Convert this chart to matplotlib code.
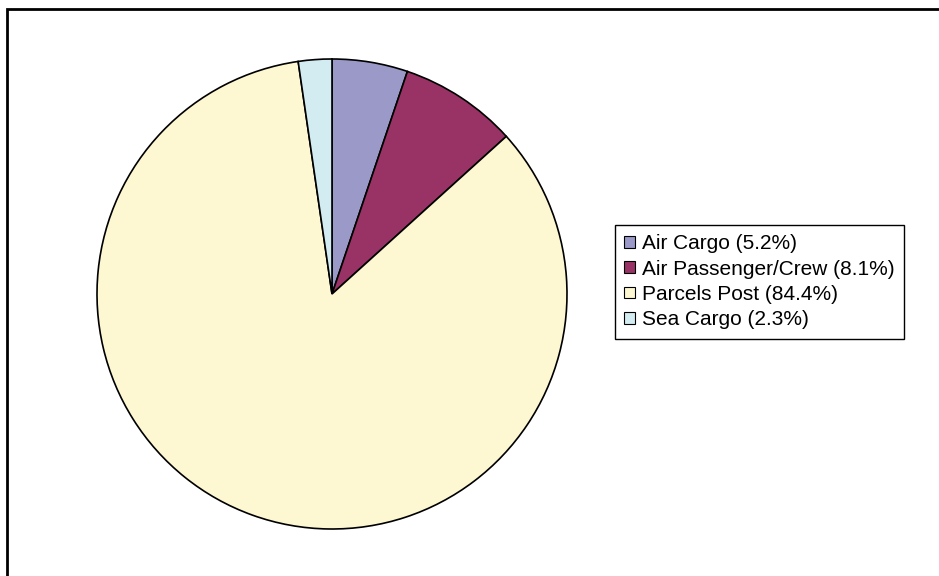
import matplotlib
matplotlib.use("Agg")
import matplotlib.pyplot as plt
from matplotlib.patches import Rectangle

labels = ["Air Cargo (5.2%)", "Air Passenger/Crew (8.1%)", "Parcels Post (84.4%)", "Sea Cargo (2.3%)"]
shares = [5.2, 8.1, 84.4, 2.3]
colors = ["#9a99c8", "#993366", "#fdf8d2", "#d2ecf2"]

plt.rcParams["font.family"] = ["Liberation Sans", "DejaVu Sans"]

W, H = 939, 576
fig = plt.figure(figsize=(W / 100, H / 100), dpi=100)

# outer frame (right and bottom edges fall outside the picture)
fig.patches.append(Rectangle((7 / W, -0.05), 1.1, 1 - 9 / H + 0.05,
                             transform=fig.transFigure, fill=False,
                             edgecolor="black", linewidth=2))

cx, cy, r = 332, 294, 235
ax = fig.add_axes([(cx - r) / W, (H - cy - r) / H, 2 * r / W, 2 * r / H])
wedges, _ = ax.pie(shares, colors=colors, startangle=90, counterclock=False,
                   radius=1, wedgeprops=dict(edgecolor="black", linewidth=1.2))
ax.set_xlim(-1, 1)
ax.set_ylim(-1, 1)
ax.set_aspect("equal")
ax.axis("off")

leg = fig.legend(wedges, labels, loc="upper left",
                 bbox_to_anchor=(615 / W, 1 - 225 / H), bbox_transform=fig.transFigure,
                 borderaxespad=0, fontsize=15, fancybox=False, framealpha=1,
                 edgecolor="black", handlelength=0.5, handleheight=0.5,
                 handletextpad=0.35, labelspacing=0.3, borderpad=0.45)
leg.get_frame().set_linewidth(1.0)
for h in leg.legend_handles:
    h.set_linewidth(0.8)

fig.savefig("out.png", dpi=100)
